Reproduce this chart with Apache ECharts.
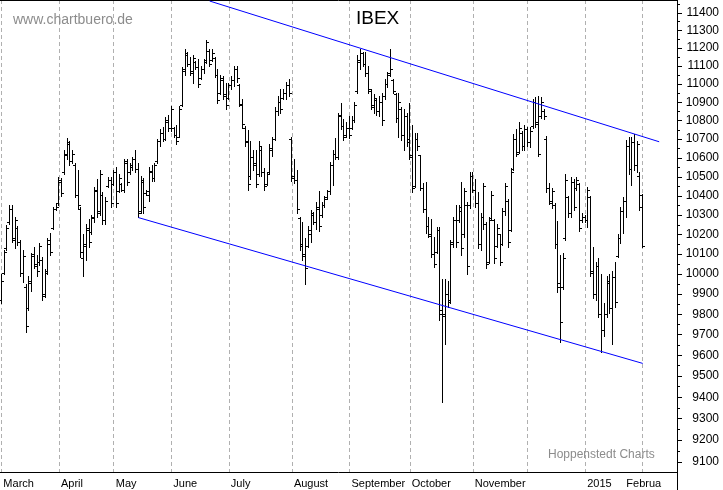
<!DOCTYPE html>
<html>
<head>
<meta charset="utf-8">
<title>IBEX</title>
<script src="https://cdn.jsdelivr.net/npm/echarts@6/dist/echarts.min.js"></script>
<style>
    html, body { margin: 0; padding: 0; background: #fff; }
    #chartIbex { width: 723px; height: 490px; }
</style>
</head>
<body>
<div id="chartIbex"></div>
<script>
const openPrices = [
    9870, 10000, 10130, 10260, 10330, 10170, 10230, 10160, 10000, 9930,
    9830, 9950, 10100, 10040, 10060, 10070, 9900, 10010, 10150, 10230,
    10330, 10360, 10470, 10520, 10610, 10670, 10580, 10560, 10400, 10330,
    10080, 10140, 10220, 10210, 10280, 10420, 10320, 10400, 10270, 10450,
    10480, 10460, 10520, 10420, 10460, 10430, 10570, 10520, 10550, 10590,
    10540, 10320, 10470, 10410, 10400, 10520, 10490, 10580, 10690, 10730,
    10700, 10790, 10760, 10760, 10720, 10710, 10880, 11080, 11160, 11110,
    11070, 11120, 11090, 11030, 11080, 11130, 11180, 11130, 11140, 11050,
    10950, 11020, 10940, 10920, 10990, 11020, 11080, 10990, 10880, 10760,
    10690, 10500, 10600, 10570, 10510, 10640, 10520, 10460, 10520, 10640,
    10700, 10850, 10900, 10920, 10950, 10990, 10700, 10500, 10480, 10280,
    10150, 10090, 10140, 10200, 10300, 10260, 10330, 10300, 10350, 10390,
    10420, 10560, 10620, 10600, 10830, 10770, 10720, 10760, 10760, 10800,
    10960, 11130, 11170, 11110, 11060, 10960, 10870, 10910, 10850, 10900,
    10930, 11000, 11060, 11020, 10940, 10810, 10860, 10720, 10820, 10700,
    10600, 10450, 10700, 10610, 10440, 10330, 10240, 10190, 10100, 10110,
    10220, 9820, 9800, 9900, 9870, 10160, 10270, 10270, 10320, 10200,
    10350, 10350, 10500, 10430, 10360, 10150, 10290, 10250, 10060, 10280,
    10270, 10140, 10200, 10150, 10320, 10370, 10220, 10540, 10700, 10630,
    10730, 10660, 10750, 10680, 10770, 10900, 10790, 10820, 10850, 10700,
    10440, 10360, 10350, 10150, 9950, 9930, 10180, 10390, 10310, 10470,
    10440, 10460, 10270, 10290, 10270, 10390, 10000, 9900, 10040, 9800,
    9720, 9800, 9950, 9830, 9980, 10090, 10180, 10320, 10370, 10660,
    10540, 10680, 10560, 10500, 10400
];
const highPrices = [
    9995, 10120, 10245, 10350, 10350, 10290, 10240, 10170, 10120, 9945,
    9985, 10105, 10135, 10095, 10155, 10085, 10020, 10180, 10205, 10340,
    10360, 10495, 10490, 10640, 10705, 10685, 10640, 10570, 10535, 10340,
    10200, 10250, 10275, 10300, 10445, 10485, 10535, 10415, 10390, 10495,
    10495, 10535, 10550, 10510, 10465, 10590, 10590, 10570, 10600, 10640,
    10570, 10500, 10490, 10430, 10550, 10560, 10570, 10700, 10750, 10765,
    10815, 10830, 10875, 10765, 10775, 10875, 11090, 11190, 11175, 11145,
    11160, 11125, 11135, 11095, 11135, 11245, 11190, 11190, 11145, 11080,
    11050, 11040, 11005, 11005, 11040, 11095, 11095, 10995, 10915, 10770,
    10745, 10685, 10640, 10640, 10685, 10655, 10545, 10525, 10670, 10710,
    10870, 10930, 10970, 10970, 11010, 11025, 10710, 10590, 10535, 10285,
    10260, 10180, 10240, 10325, 10315, 10365, 10420, 10365, 10395, 10430,
    10575, 10640, 10705, 10840, 10895, 10805, 10790, 10820, 10820, 10900,
    11160, 11190, 11175, 11175, 11095, 10970, 10940, 10915, 10930, 10950,
    11025, 11065, 11195, 11025, 10950, 10950, 10870, 10860, 10840, 10895,
    10775, 10730, 10730, 10615, 10465, 10470, 10290, 10275, 10185, 10235,
    10235, 9970, 9970, 9960, 10170, 10290, 10350, 10350, 10470, 10440,
    10365, 10525, 10525, 10485, 10415, 10310, 10465, 10260, 10285, 10420,
    10275, 10250, 10200, 10335, 10465, 10380, 10545, 10725, 10750, 10790,
    10740, 10775, 10765, 10765, 10915, 10925, 10930, 10925, 10860, 10715,
    10465, 10440, 10360, 10265, 10095, 10105, 10510, 10395, 10495, 10485,
    10495, 10465, 10310, 10300, 10445, 10395, 10135, 10060, 10080, 9995,
    9855, 9985, 9995, 10010, 10060, 10200, 10340, 10390, 10695, 10710,
    10710, 10725, 10685, 10520, 10405
];
const lowPrices = [
    9855, 9995, 10120, 10250, 10160, 10130, 10145, 9985, 9955, 9710,
    9820, 9910, 10030, 9985, 10045, 9870, 9885, 9995, 10095, 10225,
    10325, 10350, 10395, 10510, 10590, 10560, 10570, 10390, 10335, 10085,
    9985, 10070, 10135, 10200, 10260, 10290, 10300, 10250, 10250, 10445,
    10340, 10455, 10340, 10415, 10420, 10415, 10455, 10510, 10535, 10525,
    10290, 10310, 10310, 10400, 10370, 10475, 10475, 10570, 10660, 10685,
    10695, 10740, 10740, 10710, 10670, 10710, 10875, 11050, 11095, 11050,
    11005, 11080, 10980, 11025, 11060, 11115, 11095, 11125, 11035, 10895,
    10940, 10915, 10860, 10915, 10970, 10985, 11010, 10875, 10760, 10660,
    10430, 10485, 10535, 10445, 10500, 10500, 10430, 10455, 10510, 10605,
    10695, 10830, 10840, 10915, 10915, 10930, 10475, 10465, 10310, 10120,
    10070, 9945, 10135, 10160, 10250, 10225, 10215, 10290, 10340, 10380,
    10405, 10455, 10590, 10590, 10750, 10695, 10710, 10705, 10750, 10790,
    10950, 11080, 11095, 11040, 10950, 10860, 10840, 10830, 10820, 10775,
    10915, 10980, 11040, 10950, 10790, 10710, 10695, 10640, 10660, 10590,
    10415, 10445, 10640, 10430, 10315, 10205, 10185, 10085, 10035, 10105,
    9770, 9375, 9650, 9835, 9855, 10135, 10135, 10260, 10095, 10185,
    9995, 10335, 10415, 10340, 10130, 10120, 10225, 10030, 10055, 10275,
    10055, 10135, 10045, 10145, 10300, 10135, 10215, 10535, 10605, 10625,
    10640, 10640, 10660, 10655, 10760, 10765, 10605, 10810, 10805, 10415,
    10355, 10335, 10130, 9905, 9660, 9920, 10170, 10290, 10290, 10325,
    10430, 10215, 10260, 10260, 10235, 9985, 9880, 9870, 9785, 9615,
    9690, 9785, 9805, 9650, 9835, 10085, 10155, 10205, 10290, 10510,
    10455, 10535, 10520, 10325, 10135
];
const closePrices = [
    9960, 10110, 10230, 10330, 10180, 10270, 10160, 10000, 10090, 9740,
    9960, 10090, 10050, 10010, 10140, 9890, 10000, 10170, 10110, 10330,
    10340, 10480, 10410, 10620, 10680, 10580, 10620, 10400, 10350, 10110,
    10150, 10230, 10160, 10290, 10430, 10310, 10510, 10270, 10370, 10480,
    10360, 10520, 10360, 10490, 10430, 10580, 10470, 10560, 10590, 10540,
    10310, 10480, 10340, 10420, 10530, 10490, 10560, 10690, 10730, 10700,
    10800, 10760, 10860, 10720, 10690, 10860, 11070, 11170, 11110, 11060,
    11140, 11090, 11000, 11080, 11120, 11230, 11110, 11170, 11050, 10910,
    11030, 10930, 10880, 10990, 11020, 11080, 11030, 10890, 10780, 10680,
    10460, 10600, 10560, 10460, 10660, 10520, 10450, 10510, 10650, 10700,
    10850, 10900, 10860, 10950, 10990, 10950, 10490, 10480, 10330, 10140,
    10100, 10030, 10220, 10310, 10260, 10340, 10240, 10350, 10380, 10420,
    10560, 10620, 10600, 10820, 10770, 10710, 10760, 10720, 10800, 10880,
    11120, 11170, 11110, 11060, 10970, 10880, 10920, 10850, 10900, 10800,
    11000, 11050, 11080, 10960, 10810, 10900, 10720, 10820, 10680, 10610,
    10440, 10700, 10660, 10440, 10330, 10240, 10200, 10100, 10050, 10220,
    9800, 9790, 9900, 9860, 10150, 10270, 10160, 10340, 10130, 10420,
    10040, 10500, 10430, 10360, 10150, 10290, 10450, 10050, 10270, 10400,
    10080, 10230, 10060, 10320, 10450, 10160, 10520, 10700, 10620, 10760,
    10660, 10750, 10680, 10740, 10900, 10780, 10620, 10900, 10820, 10440,
    10370, 10420, 10150, 9930, 9760, 10080, 10480, 10310, 10470, 10340,
    10480, 10230, 10290, 10270, 10430, 10010, 9900, 10040, 9800, 9720,
    9800, 9960, 9830, 9980, 9860, 10180, 10320, 10370, 10660, 10540,
    10680, 10560, 10670, 10340, 10140
];

// Trendkanal: [Handelstag-Index, Kurs]
const upperChannel = [[76, 11468], [240, 10686]];
const lowerChannel = [[50, 10287], [234, 9561]];

const yLabels = [9100, 9200, 9300, 9400, 9500, 9600, 9700, 9800, 9900, 10000, 10100, 10200,
    10300, 10400, 10500, 10600, 10700, 10800, 10900, 11000, 11100, 11200, 11300, 11400];
const yHalfTicks = [9150, 9250, 9350, 9450, 9550, 9650, 9750, 9850, 9950, 10050, 10150, 10250,
    10350, 10450, 10550, 10650, 10750, 10850, 10950, 11050, 11150, 11250, 11350, 11450];
const monthNames = ['January', 'February', 'March', 'April', 'May', 'June', 'July',
    'August', 'September', 'October', 'November', 'December'];
const holidays = ['2014-04-18', '2014-04-21', '2014-05-01', '2014-12-25', '2014-12-26', '2015-01-01'];

const slotCount = 247;   // Handelstage inkl. Leerraum rechts
const fontFamily = 'Liberation Sans, Arial, sans-serif';

// Handelstage (ohne Wochenenden und Börsenfeiertage)
const days = [];
const d = new Date(Date.UTC(2014, 2, 3));
while (days.length < slotCount) {
    const s = d.toISOString().slice(0, 10);
    const wd = d.getUTCDay();
    if (wd !== 0 && wd !== 6 && holidays.indexOf(s) < 0) {
        days.push(s);
    }
    d.setUTCDate(d.getUTCDate() + 1);
}
const isMonthStart = days.map((s, i) => i === 0 || s.slice(5, 7) !== days[i - 1].slice(5, 7));
const isWeekStart = days.map((s, i) => i === 0 ||
    new Date(s).getUTCDay() < new Date(days[i - 1]).getUTCDay());

const xData = days.map(s => s === '2015-02-02'
    ? { value: s, textStyle: { width: 38, overflow: 'truncate', ellipsis: '' } }
    : s);

const ohlc = openPrices.map((o, i) => [i, o, highPrices[i], lowPrices[i], closePrices[i]]);

// OHLC-Balken: 1px senkrecht, Eröffnung links, Schluss rechts
const renderBar = (params, api) => {
    const i = api.value(0);
    const hi = api.coord([i, api.value(2)]);
    const lo = api.coord([i, api.value(3)]);
    const op = api.coord([i, api.value(1)]);
    const cl = api.coord([i, api.value(4)]);
    const x = Math.floor(hi[0]) + 0.5;
    const yo = Math.floor(op[1]) + 0.5;
    const yc = Math.floor(cl[1]) + 0.5;
    const style = { stroke: '#000', lineWidth: 1 };
    return {
        type: 'group',
        children: [
            { type: 'line', shape: { x1: x, y1: Math.floor(hi[1]), x2: x, y2: Math.ceil(lo[1]) }, style: style },
            { type: 'line', shape: { x1: x - 2.5, y1: yo, x2: x - 0.5, y2: yo }, style: style },
            { type: 'line', shape: { x1: x + 0.5, y1: yc, x2: x + 2.5, y2: yc }, style: style }
        ]
    };
};

const option = {
    animation: false,
    backgroundColor: '#fff',
    title: {
        text: 'IBEX',
        left: 356,
        top: 9,
        padding: 0,
        textStyle: { fontSize: 19, fontWeight: 'normal', color: '#000', fontFamily: fontFamily }
    },
    graphic: [
        {
            type: 'text', left: 13, top: 13, z: 1,
            style: { text: 'www.chartbuero.de', font: '14px ' + fontFamily, fill: '#8c8c8c' }
        },
        {
            type: 'text', left: 548, top: 449, z: 1,
            style: { text: 'Hoppenstedt Charts', font: '12px ' + fontFamily, fill: '#8c8c8c' }
        },
        {
            // Achsenlinie rechts läuft bis zum unteren Rand durch
            type: 'line', z: 5,
            shape: { x1: 677.5, y1: 472, x2: 677.5, y2: 490 },
            style: { stroke: '#000', lineWidth: 1 }
        }
    ],
    grid: { left: 0, right: 46, top: 0, bottom: 18, outerBoundsMode: 'none' },
    xAxis: [
        {
            type: 'category',
            data: xData,
            position: 'bottom',
            boundaryGap: true,
            axisLine: { lineStyle: { color: '#000', width: 1 } },
            axisTick: {
                interval: i => isWeekStart[i],
                alignWithLabel: true,
                length: 5,
                lineStyle: { color: '#000' }
            },
            axisLabel: {
                interval: i => isMonthStart[i] && days[i].slice(5, 7) !== '12',
                formatter: v => v.slice(5, 7) === '01' ? v.slice(0, 4) : monthNames[+v.slice(5, 7) - 1],
                align: 'left',
                margin: 6,
                padding: [0, 0, 0, 2],
                fontSize: 11,
                color: '#000',
                fontFamily: fontFamily
            },
            splitLine: {
                show: true,
                interval: i => isMonthStart[i],
                alignWithLabel: true,
                lineStyle: { color: '#b0b0b0', width: 1, type: [4, 3] }
            }
        },
        {
            // lange Striche am Monatsanfang
            type: 'category',
            data: days,
            position: 'bottom',
            boundaryGap: true,
            axisLine: { show: false },
            axisTick: {
                interval: i => isMonthStart[i],
                alignWithLabel: true,
                length: 18,
                lineStyle: { color: '#000' }
            },
            axisLabel: { show: false },
            splitLine: { show: false }
        },
        {
            type: 'category',
            data: days,
            position: 'top',
            axisLine: { lineStyle: { color: '#000' } },
            axisTick: { show: false },
            axisLabel: { show: false },
            splitLine: { show: false }
        }
    ],
    yAxis: [
        {
            type: 'log',
            min: 9054,
            max: 11474,
            position: 'right',
            axisLine: { show: true, lineStyle: { color: '#000' } },
            axisTick: { show: true, customValues: yLabels, length: 5, lineStyle: { color: '#000' } },
            axisLabel: {
                customValues: yLabels,
                formatter: v => String(Math.round(v)),
                align: 'right',
                margin: 42,
                fontSize: 12,
                color: '#000',
                fontFamily: fontFamily
            },
            splitLine: { show: false }
        },
        {
            type: 'log',
            min: 9054,
            max: 11474,
            position: 'right',
            axisLine: { show: false },
            axisTick: { show: true, customValues: yHalfTicks, length: 3, lineStyle: { color: '#000' } },
            axisLabel: { show: false },
            splitLine: { show: false }
        }
    ],
    series: [
        {
            name: 'IBEX',
            type: 'custom',
            xAxisIndex: 0,
            yAxisIndex: 0,
            renderItem: renderBar,
            encode: { x: 0, y: [1, 2, 3, 4] },
            data: ohlc,
            z: 3
        },
        {
            type: 'line',
            xAxisIndex: 0,
            yAxisIndex: 0,
            data: upperChannel,
            symbol: 'none',
            silent: true,
            lineStyle: { color: '#0000ff', width: 1 },
            z: 4
        },
        {
            type: 'line',
            xAxisIndex: 0,
            yAxisIndex: 0,
            data: lowerChannel,
            symbol: 'none',
            silent: true,
            lineStyle: { color: '#0000ff', width: 1 },
            z: 4
        }
    ]
};

const chartIbex = echarts.init(document.getElementById('chartIbex'));
chartIbex.setOption(option);
</script>
</body>
</html>
